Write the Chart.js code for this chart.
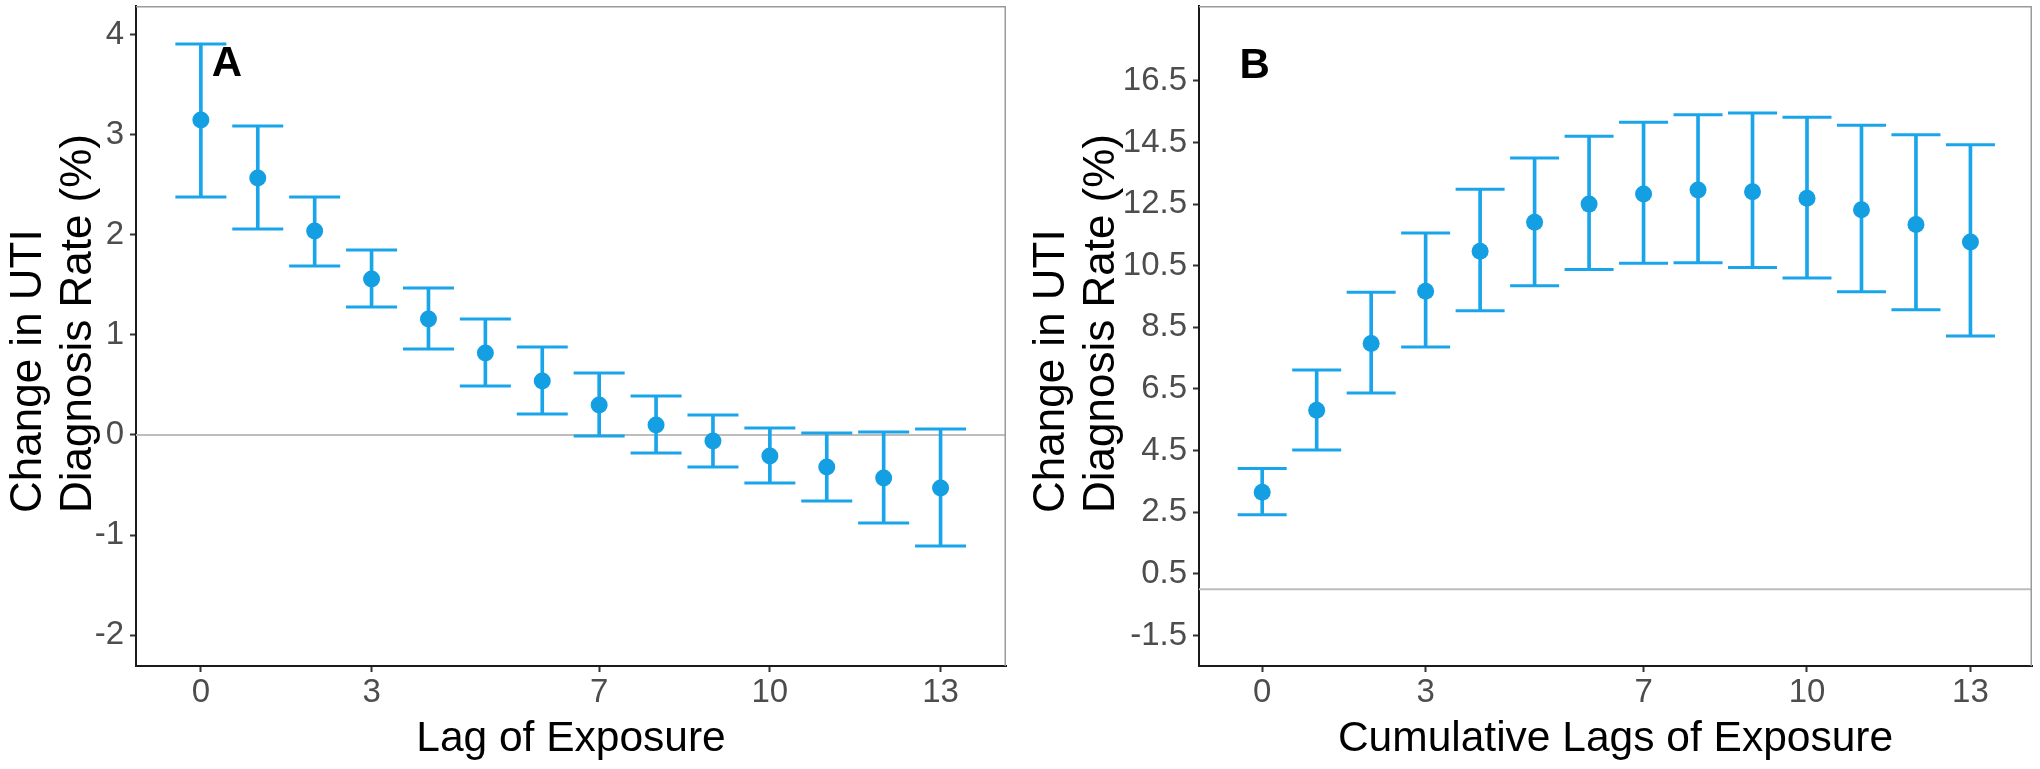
<!DOCTYPE html>
<html lang="en">
<head>
<meta charset="UTF-8">
<title>Change in UTI Diagnosis Rate by Lag of Exposure</title>
<script src="https://cdn.jsdelivr.net/npm/chart.js"></script>
<style>
  body { margin: 0; background: #fff; }
  .row { display: flex; width: 2040px; height: 769px; }
  .panel { width: 1020px; height: 769px; }
</style>
</head>
<body>
<div class="row">
  <div class="panel"><canvas id="chartA" width="1020" height="769"></canvas></div>
  <div class="panel"><canvas id="chartB" width="1020" height="769"></canvas></div>
</div>
<script>
// lags 0..13
const lags = [0, 1, 2, 3, 4, 5, 6, 7, 8, 9, 10, 11, 12, 13];

// panel A: single lag effects
const lagEstimate = [3.15, 2.57, 2.04, 1.56, 1.16, 0.82, 0.54, 0.30, 0.10, -0.06, -0.21, -0.32, -0.43, -0.53];
const lagLower = [2.38, 2.06, 1.69, 1.28, 0.86, 0.49, 0.21, -0.01, -0.18, -0.32, -0.48, -0.66, -0.88, -1.11];
const lagUpper = [3.91, 3.09, 2.38, 1.85, 1.47, 1.16, 0.88, 0.62, 0.39, 0.20, 0.07, 0.02, 0.03, 0.06];

// panel B: cumulative lag effects
const cumEstimate = [3.15, 5.81, 7.98, 9.67, 10.97, 11.91, 12.50, 12.83, 12.96, 12.90, 12.69, 12.32, 11.84, 11.27];
const cumLower = [2.42, 4.52, 6.37, 7.86, 9.04, 9.85, 10.38, 10.58, 10.60, 10.44, 10.10, 9.66, 9.07, 8.22];
const cumUpper = [3.92, 7.12, 9.64, 11.56, 12.98, 14.00, 14.70, 15.16, 15.40, 15.46, 15.32, 15.06, 14.75, 14.43];

// tick labels
const xTickValues = [0, 3, 7, 10, 13];
const yTicksA = [-2, -1, 0, 1, 2, 3, 4];
const yTicksB = [-1.5, 0.5, 2.5, 4.5, 6.5, 8.5, 10.5, 12.5, 14.5, 16.5];
const yTitleLines = ['Change in UTI', 'Diagnosis Rate (%)'];

const barColor = '#1aa5ea';
const pointColor = '#149fe3';
const fontFamily = "'Liberation Sans', Arial, sans-serif";
Chart.defaults.font.family = fontFamily;

// zero line, grey frame, rotated y title and panel tag
const framePlugin = {
    id: 'frame',
    beforeDatasetsDraw(chart) {
        const { ctx, chartArea: a, scales: { y } } = chart;
        const y0 = y.getPixelForValue(0);
        ctx.save();
        ctx.strokeStyle = '#bdbdbd';
        ctx.lineWidth = 2;
        ctx.beginPath();
        ctx.moveTo(a.left, y0);
        ctx.lineTo(a.right, y0);
        ctx.stroke();
        ctx.restore();
    },
    afterDraw(chart, args, opts) {
        const { ctx, chartArea: a, scales: { x, y } } = chart;
        ctx.save();
        ctx.strokeStyle = '#9a9a9a';
        ctx.lineWidth = 1.5;
        ctx.beginPath();
        ctx.moveTo(a.left, a.top + 0.75);
        ctx.lineTo(a.right - 0.75, a.top + 0.75);
        ctx.lineTo(a.right - 0.75, a.bottom);
        ctx.stroke();

        ctx.fillStyle = '#000';
        ctx.font = '44px ' + fontFamily;
        ctx.textAlign = 'left';
        ctx.textBaseline = 'alphabetic';
        opts.lines.forEach((line, i) => {
            ctx.save();
            ctx.translate(opts.titleX + i * opts.lineGap, opts.titleY);
            ctx.rotate(-Math.PI / 2);
            ctx.fillText(line, 0, 0);
            ctx.restore();
        });

        ctx.font = 'bold 42px ' + fontFamily;
        ctx.textAlign = 'center';
        ctx.textBaseline = 'middle';
        ctx.fillText(opts.tag, x.getPixelForValue(opts.tagX), y.getPixelForValue(opts.tagY));
        ctx.restore();
    }
};

function axisStyle() {
    return {
        grid: { offset: false, drawOnChartArea: false, drawTicks: true, tickLength: 6, tickWidth: 2, tickColor: '#333' },
        border: { display: true, color: '#1a1a1a', width: 2 }
    };
}

function noEdgePadding(s) {
    s.paddingTop = 0;
    s.paddingBottom = 0;
    s.paddingLeft = 0;
    s.paddingRight = 0;
}

function errorBarChart(id, p) {
    return new Chart(document.getElementById(id), {
        type: 'scatter',
        data: {
            datasets: [
                {
                    type: 'scatter',
                    data: lags.map((x, i) => ({ x: x, y: p.est[i] })),
                    backgroundColor: pointColor,
                    borderWidth: 0,
                    pointRadius: 8.5
                },
                {
                    type: 'scatter',
                    data: lags.map((x, i) => ({ x: x, y: p.lo[i] })).concat(lags.map((x, i) => ({ x: x, y: p.hi[i] }))),
                    pointStyle: 'line',
                    pointRadius: p.capRadius,
                    borderColor: barColor,
                    borderWidth: 3
                },
                {
                    type: 'bar',
                    data: lags.map((x, i) => ({ x: x, y: [p.lo[i], p.hi[i]] })),
                    backgroundColor: barColor,
                    barThickness: 3,
                    grouped: false
                }
            ]
        },
        options: {
            responsive: false,
            animation: false,
            events: [],
            layout: { autoPadding: false, padding: { left: 0, right: p.padRight, top: 6, bottom: 0 } },
            plugins: {
                legend: { display: false },
                tooltip: { enabled: false },
                frame: { lines: yTitleLines, titleX: p.titleX, titleY: 513, lineGap: 50, tag: p.tag, tagX: p.tagX, tagY: p.tagY }
            },
            scales: {
                x: Object.assign(axisStyle(), {
                    type: 'linear',
                    min: p.xMin,
                    max: p.xMax,
                    offset: false,
                    afterBuildTicks: s => { s.ticks = xTickValues.map(v => ({ value: v })); },
                    afterFit: s => { s.height = 103; noEdgePadding(s); },
                    ticks: { autoSkip: false, maxRotation: 0, color: '#4d4d4d', font: { size: 33 }, padding: 1, callback: v => String(v) },
                    title: { display: true, text: p.xTitle, color: '#000', font: { size: 42.5, lineHeight: 1 }, padding: { top: 0, bottom: 8 } }
                }),
                y: Object.assign(axisStyle(), {
                    type: 'linear',
                    min: p.yMin,
                    max: p.yMax,
                    afterBuildTicks: s => { s.ticks = p.yTicks.map(v => ({ value: v })); },
                    afterFit: s => { s.width = p.yWidth; noEdgePadding(s); },
                    ticks: { autoSkip: false, color: '#4d4d4d', font: { size: 33 }, padding: 6, callback: v => String(v) }
                })
            }
        },
        plugins: [framePlugin]
    });
}

errorBarChart('chartA', {
    est: lagEstimate, lo: lagLower, hi: lagUpper,
    xMin: -1.14, xMax: 14.15, yMin: -2.31, yMax: 4.29, yTicks: yTicksA,
    xTitle: 'Lag of Exposure', tag: 'A', tagX: 0.46, tagY: 3.71,
    yWidth: 136, padRight: 14, capRadius: 25.5, titleX: 41
});

errorBarChart('chartB', {
    est: cumEstimate, lo: cumLower, hi: cumUpper,
    xMin: -1.16, xMax: 14.13, yMin: -2.49, yMax: 18.93, yTicks: yTicksB,
    xTitle: 'Cumulative Lags of Exposure', tag: 'B', tagX: -0.14, tagY: 16.97,
    yWidth: 179, padRight: 8, capRadius: 24.5, titleX: 44
});
</script>
</body>
</html>
